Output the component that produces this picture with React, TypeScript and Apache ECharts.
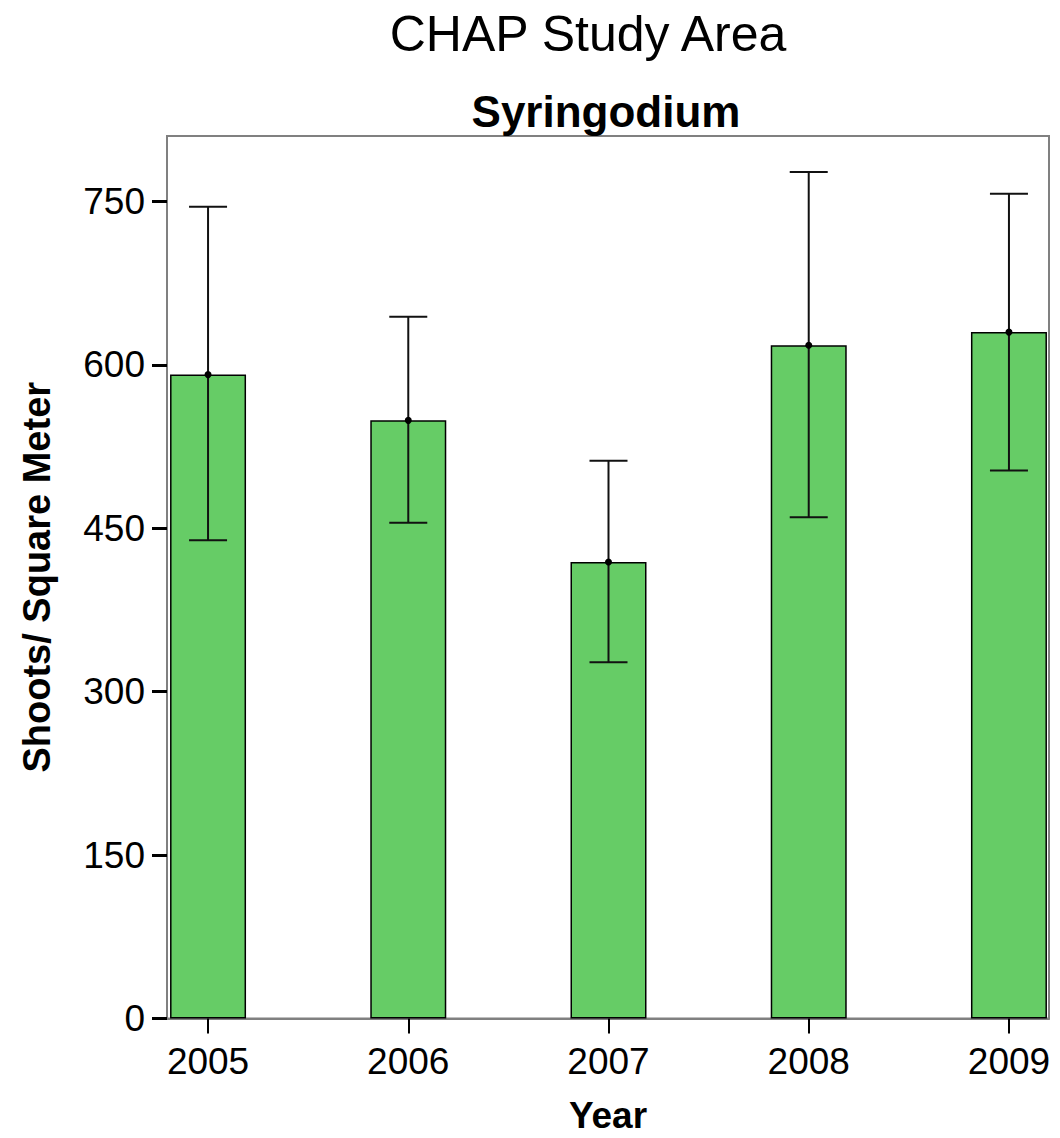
import React, { useEffect, useRef } from "react";
import * as echarts from "echarts";

// Syringodium shoot density by survey year
const years = [2005, 2006, 2007, 2008, 2009];
const meanDensity = [591, 549, 419, 618, 630];
const upperBound = [745, 644, 512, 777, 757];
const lowerBound = [439, 455, 327, 460, 503];
const yTicks = [0, 150, 300, 450, 600, 750];

const FONT = "'Liberation Sans', Arial, sans-serif";

export default function App() {
  const ref = useRef<HTMLDivElement>(null);

  useEffect(() => {
    if (!ref.current) return;
    const chart = echarts.init(ref.current, null, { renderer: "svg" });

    const barData = years.map((y, i) => [y, meanDensity[i]]);
    const errData = years.map((y, i) => [y, lowerBound[i], upperBound[i], meanDensity[i]]);

    chart.setOption({
      animation: false,
      backgroundColor: "#ffffff",
      textStyle: { fontFamily: FONT },
      title: [
        {
          text: "CHAP Study Area",
          left: 583,
          top: 4,
          textAlign: "center",
          textStyle: { fontFamily: FONT, fontSize: 50, fontWeight: "normal", color: "#000" },
        },
        {
          text: "Syringodium",
          left: 601,
          top: 84,
          textAlign: "center",
          textStyle: { fontFamily: FONT, fontSize: 44, fontWeight: "bold", color: "#000" },
        },
      ],
      grid: {
        left: 167,
        right: 11,
        top: 136,
        bottom: 119.5,
        outerBoundsMode: "none",
        containLabel: false,
        show: true,
        borderColor: "#808080",
        borderWidth: 2,
        backgroundColor: "transparent",
      },
      xAxis: {
        type: "value",
        min: 2004.795,
        max: 2009.2,
        name: "Year",
        nameLocation: "middle",
        nameGap: 78,
        nameTextStyle: { fontFamily: FONT, fontSize: 37, fontWeight: "bold", color: "#000" },
        axisLine: { show: true, lineStyle: { color: "#808080", width: 2 } },
        axisTick: {
          show: true,
          customValues: years,
          length: 15,
          lineStyle: { color: "#000", width: 2 },
        },
        axisLabel: {
          customValues: years,
          formatter: (v: number) => String(v),
          fontFamily: FONT,
          fontSize: 37,
          color: "#000",
          margin: 24,
        },
        splitLine: { show: false },
      },
      yAxis: {
        type: "value",
        min: 0,
        max: 810,
        name: "Shoots/ Square Meter",
        nameLocation: "middle",
        nameGap: 111,
        nameRotate: 90,
        nameTextStyle: { fontFamily: FONT, fontSize: 38, fontWeight: "bold", color: "#000" },
        axisLine: { show: true, lineStyle: { color: "#808080", width: 2 } },
        axisTick: {
          show: true,
          customValues: yTicks,
          length: 15,
          lineStyle: { color: "#000", width: 3 },
        },
        axisLabel: {
          customValues: yTicks,
          fontFamily: FONT,
          fontSize: 37,
          color: "#000",
          margin: 22,
        },
        splitLine: { show: false },
      },
      series: [
        {
          type: "bar",
          data: barData,
          barWidth: 76,
          itemStyle: { color: "#66cc66", borderColor: "#000", borderWidth: 1.5 },
        },
        {
          type: "custom",
          data: errData,
          encode: { x: 0, y: [1, 2] },
          z: 5,
          renderItem: (params: any, api: any) => {
            const x = api.value(0);
            const lo = api.coord([x, api.value(1)]);
            const hi = api.coord([x, api.value(2)]);
            const mid = api.coord([x, api.value(3)]);
            const half = 19;
            const style = { stroke: "#111", lineWidth: 2 };
            return {
              type: "group",
              children: [
                { type: "line", shape: { x1: hi[0], y1: hi[1], x2: lo[0], y2: lo[1] }, style },
                { type: "line", shape: { x1: hi[0] - half, y1: hi[1], x2: hi[0] + half, y2: hi[1] }, style },
                { type: "line", shape: { x1: lo[0] - half, y1: lo[1], x2: lo[0] + half, y2: lo[1] }, style },
                { type: "circle", shape: { cx: mid[0], cy: mid[1], r: 3.5 }, style: { fill: "#000" } },
              ],
            };
          },
        },
      ],
    });

    return () => chart.dispose();
  }, []);

  return (
    <div
      ref={ref}
      style={{ position: "fixed", left: 0, top: 0, width: 1060, height: 1138 }}
    />
  );
}
